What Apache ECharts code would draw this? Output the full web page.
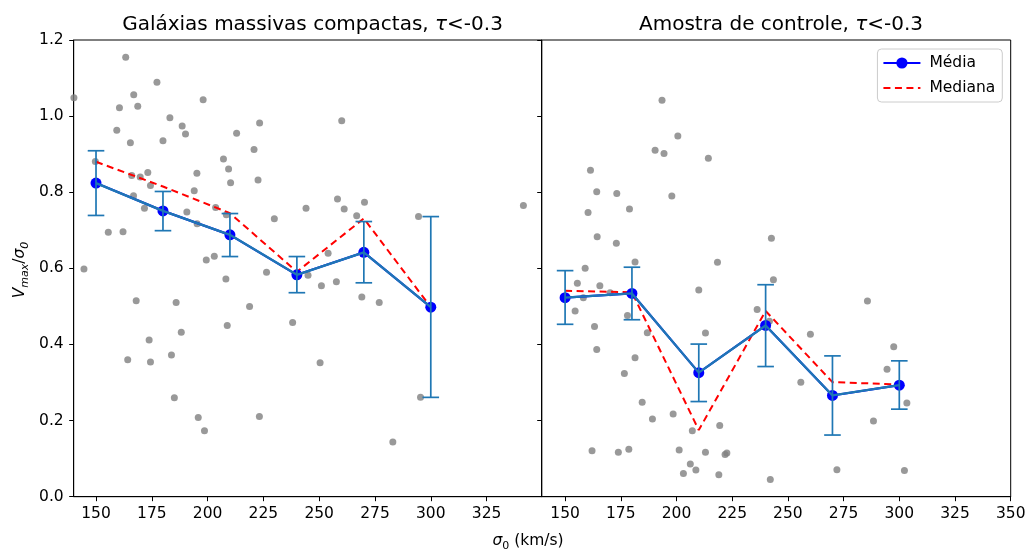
<!DOCTYPE html>
<html>
<head>
<meta charset="utf-8">
<script src="https://cdn.jsdelivr.net/npm/echarts@6/dist/echarts.min.js"></script>
<style>html,body{margin:0;padding:0;background:#fff}#c{width:1033px;height:552px}</style>
</head>
<body>
<div id="c"></div>
<script>
// ---- data ----
const binsX = [150, 180, 210, 240, 270, 300];
const meanLeft = [0.824, 0.751, 0.688, 0.583, 0.642, 0.498];
const errLoLeft = [0.739, 0.699, 0.631, 0.536, 0.562, 0.261];
const errHiLeft = [0.909, 0.802, 0.744, 0.631, 0.723, 0.736];
const medLeft = [0.880, 0.815, 0.745, 0.591, 0.731, 0.498];
const meanRight = [0.523, 0.534, 0.326, 0.450, 0.266, 0.293];
const errLoRight = [0.453, 0.465, 0.250, 0.342, 0.162, 0.230];
const errHiRight = [0.594, 0.603, 0.401, 0.557, 0.370, 0.357];
const medRight = [0.541, 0.537, 0.175, 0.488, 0.301, 0.295];
const xTicksLeft = [150, 175, 200, 225, 250, 275, 300, 325];
const xTicksRight = [150, 175, 200, 225, 250, 275, 300, 325, 350];
const pointsLeft = [[140.1,1.048],[163.3,1.155],[177.3,1.089],[166.9,1.056],[160.5,1.022],[168.7,1.026],[198.0,1.043],[183.1,0.996],[188.6,0.974],[190.1,0.953],[159.3,0.963],[165.4,0.930],[180.0,0.935],[213.0,0.955],[223.3,0.982],[220.8,0.912],[207.1,0.887],[209.4,0.861],[222.6,0.832],[210.3,0.825],[149.7,0.881],[173.2,0.852],[166.0,0.844],[169.8,0.840],[195.2,0.850],[194.0,0.804],[174.4,0.818],[166.8,0.791],[171.7,0.758],[190.7,0.748],[195.3,0.717],[203.6,0.760],[208.4,0.741],[229.9,0.730],[244.1,0.758],[155.5,0.695],[162.1,0.696],[199.4,0.622],[203.0,0.632],[144.6,0.598],[226.4,0.590],[260.1,0.988],[258.2,0.782],[261.2,0.756],[270.3,0.774],[266.8,0.738],[294.5,0.736],[341.5,0.765],[254.0,0.640],[168.0,0.515],[185.9,0.510],[164.2,0.360],[173.8,0.412],[174.4,0.354],[188.2,0.432],[183.8,0.372],[185.1,0.260],[195.8,0.208],[198.6,0.173],[208.2,0.572],[208.8,0.450],[218.8,0.500],[223.2,0.211],[238.1,0.458],[245.0,0.582],[251.0,0.554],[257.7,0.565],[269.1,0.525],[276.9,0.510],[250.4,0.352],[295.4,0.261],[283.0,0.144]];
const pointsRight = [[193.5,1.042],[200.6,0.948],[190.4,0.910],[194.4,0.902],[214.3,0.889],[161.4,0.858],[164.2,0.801],[173.2,0.797],[197.9,0.790],[160.3,0.747],[178.9,0.756],[164.4,0.683],[173.0,0.666],[242.6,0.679],[181.4,0.617],[218.4,0.616],[159.0,0.600],[155.5,0.561],[165.6,0.554],[158.2,0.523],[170.2,0.536],[154.5,0.488],[163.2,0.447],[164.2,0.387],[178.0,0.476],[186.9,0.431],[181.4,0.365],[176.6,0.324],[184.6,0.248],[189.2,0.204],[198.5,0.217],[210.0,0.543],[213.0,0.430],[219.4,0.187],[207.1,0.173],[162.1,0.121],[173.9,0.117],[178.6,0.125],[201.2,0.123],[213.0,0.117],[221.8,0.111],[222.6,0.115],[206.2,0.086],[208.7,0.070],[203.1,0.061],[219.0,0.058],[242.1,0.045],[243.5,0.570],[236.2,0.492],[241.7,0.461],[285.7,0.514],[260.1,0.427],[297.5,0.394],[294.5,0.335],[255.8,0.301],[303.4,0.246],[288.4,0.199],[272.0,0.071],[302.3,0.069]];

// ---- chart ----
const FONT = 'DejaVu Sans';
const TICK_FS = 15.5;
const LABEL_FS = 15.5;
const chart = echarts.init(document.getElementById('c'), null, {renderer: 'canvas'});
const zip = (xs, ys) => xs.map((x, i) => [x, ys[i]]);
const errData = (lo, hi) => binsX.map((x, i) => [x, lo[i], hi[i]]);

function errRender(params, api) {
  const x = api.value(0), lo = api.value(1), hi = api.value(2);
  const a = api.coord([x, lo]), b = api.coord([x, hi]);
  const cw = 8.3;
  const st = {stroke: '#1f77b4', lineWidth: 1.7, fill: null};
  return {type: 'group', children: [
    {type: 'line', shape: {x1: a[0], y1: a[1], x2: b[0], y2: b[1]}, style: st},
    {type: 'line', shape: {x1: a[0]-cw, y1: a[1], x2: a[0]+cw, y2: a[1]}, style: st},
    {type: 'line', shape: {x1: b[0]-cw, y1: b[1], x2: b[0]+cw, y2: b[1]}, style: st}
  ]};
}

function xAxisDef(idx, min, max, ticks) {
  return {
    type: 'value', gridIndex: idx, min: min, max: max,
    axisLine: {show: true, onZero: false, lineStyle: {color: '#000', width: 1}},
    axisTick: {show: true, inside: false, length: 4.5, customValues: ticks, lineStyle: {color: '#000'}},
    axisLabel: {show: true, customValues: ticks, color: '#000', fontFamily: FONT, fontSize: TICK_FS, margin: 9, showMinLabel: true, showMaxLabel: true},
    splitLine: {show: false}
  };
}
function yAxisDef(idx, showLabel) {
  return {
    type: 'value', gridIndex: idx, min: 0, max: 1.2, interval: 0.2,
    axisLine: {show: true, onZero: false, lineStyle: {color: '#000', width: 1}},
    axisTick: {show: true, inside: false, length: 4.5, lineStyle: {color: '#000'}},
    axisLabel: {show: showLabel, color: '#000', fontFamily: FONT, fontSize: TICK_FS, margin: 10,
      formatter: v => v.toFixed(1)},
    splitLine: {show: false}
  };
}

function panelSeries(idx, pts, mean, lo, hi, med) {
  return [
    {type: 'scatter', xAxisIndex: idx, yAxisIndex: idx, data: pts, symbol: 'circle', symbolSize: 7,
      itemStyle: {color: '#808080'}, z: 1, silent: true},
    {name: 'Mediana', type: 'line', xAxisIndex: idx, yAxisIndex: idx, data: zip(binsX, med),
      showSymbol: false, symbol: 'none', lineStyle: {color: '#ff0000', width: 2, type: [7, 4.5]},
      itemStyle: {color: '#ff0000'}, z: 3},
    {name: 'Média', type: 'line', xAxisIndex: idx, yAxisIndex: idx, data: zip(binsX, mean),
      symbol: 'circle', symbolSize: 11, lineStyle: {color: '#0000ff', width: 2.2},
      itemStyle: {color: '#0000ff', borderWidth: 0}, z: 4},
    {type: 'custom', xAxisIndex: idx, yAxisIndex: idx, data: errData(lo, hi), renderItem: errRender,
      encode: {x: 0, y: [1, 2]}, z: 5, silent: true},
    {type: 'line', xAxisIndex: idx, yAxisIndex: idx, data: zip(binsX, mean), symbol: 'none',
      lineStyle: {color: '#1f77b4', width: 2.3}, z: 6, silent: true}
  ];
}

const titleRich = {
  a: {fontFamily: FONT, fontSize: 20, fontWeight: 'normal', color: '#000'},
  i: {fontFamily: FONT, fontSize: 20, fontWeight: 'normal', fontStyle: 'italic', color: '#000'}
};

chart.setOption({
  animation: false,
  backgroundColor: '#fff',
  title: [
    {text: '{a|Galáxias massivas compactas, }{i|τ}{a|<-0.3}', left: 307.5, top: 10, textAlign: 'center',
      textStyle: {fontWeight: 'normal', rich: titleRich}},
    {text: '{a|Amostra de controle, }{i|τ}{a|<-0.3}', left: 776, top: 10, textAlign: 'center',
      textStyle: {fontWeight: 'normal', rich: titleRich}}
  ],
  legend: {
    data: ['Média', {name: 'Mediana', itemStyle: {opacity: 0}}], orient: 'vertical', right: 30.7, top: 49,
    padding: [5, 7, 5, 5], itemGap: 7, itemWidth: 37, itemHeight: 14,
    backgroundColor: '#fff', borderColor: '#cccccc', borderWidth: 1, borderRadius: 4,
    textStyle: {fontFamily: FONT, fontSize: 15.5, color: '#000', lineHeight: 18, padding: [0, 0, 0, 4]}
  },
  grid: [
    {left: 73.7, top: 40, width: 468, height: 456.7, show: true, borderColor: '#000', borderWidth: 1, containLabel: false},
    {left: 541.7, top: 40, width: 469, height: 456.7, show: true, borderColor: '#000', borderWidth: 1, containLabel: false}
  ],
  xAxis: [xAxisDef(0, 140, 349.7, xTicksLeft), xAxisDef(1, 139.5, 350, xTicksRight)],
  yAxis: [yAxisDef(0, true), yAxisDef(1, false)],
  series: [].concat(
    panelSeries(0, pointsLeft, meanLeft, errLoLeft, errHiLeft, medLeft),
    panelSeries(1, pointsRight, meanRight, errLoRight, errHiRight, medRight)
  ),
  graphic: [
    {type: 'text', x: 528, y: 541, style: {
      text: '{i|σ}{s|0}{n| (km/s)}', align: 'center', verticalAlign: 'middle',
      rich: {
        i: {fontFamily: FONT, fontSize: LABEL_FS, fontStyle: 'italic', color: '#000', lineHeight: 22, verticalAlign: 'middle'},
        s: {fontFamily: FONT, fontSize: 11, color: '#000', lineHeight: 13, verticalAlign: 'bottom'},
        n: {fontFamily: FONT, fontSize: LABEL_FS, color: '#000', lineHeight: 22, verticalAlign: 'middle'}
      }}},
    {type: 'text', x: 20, y: 270, rotation: Math.PI / 2, style: {
      text: '{i|V}{s|max}{n|/}{i|σ}{s|0}', align: 'center', verticalAlign: 'middle',
      rich: {
        i: {fontFamily: FONT, fontSize: LABEL_FS, fontStyle: 'italic', color: '#000', lineHeight: 22, verticalAlign: 'middle'},
        s: {fontFamily: FONT, fontSize: 11, fontStyle: 'italic', color: '#000', lineHeight: 13, verticalAlign: 'bottom'},
        n: {fontFamily: FONT, fontSize: LABEL_FS, color: '#000', lineHeight: 22, verticalAlign: 'middle'}
      }}}
  ]
});
</script>
</body>
</html>
